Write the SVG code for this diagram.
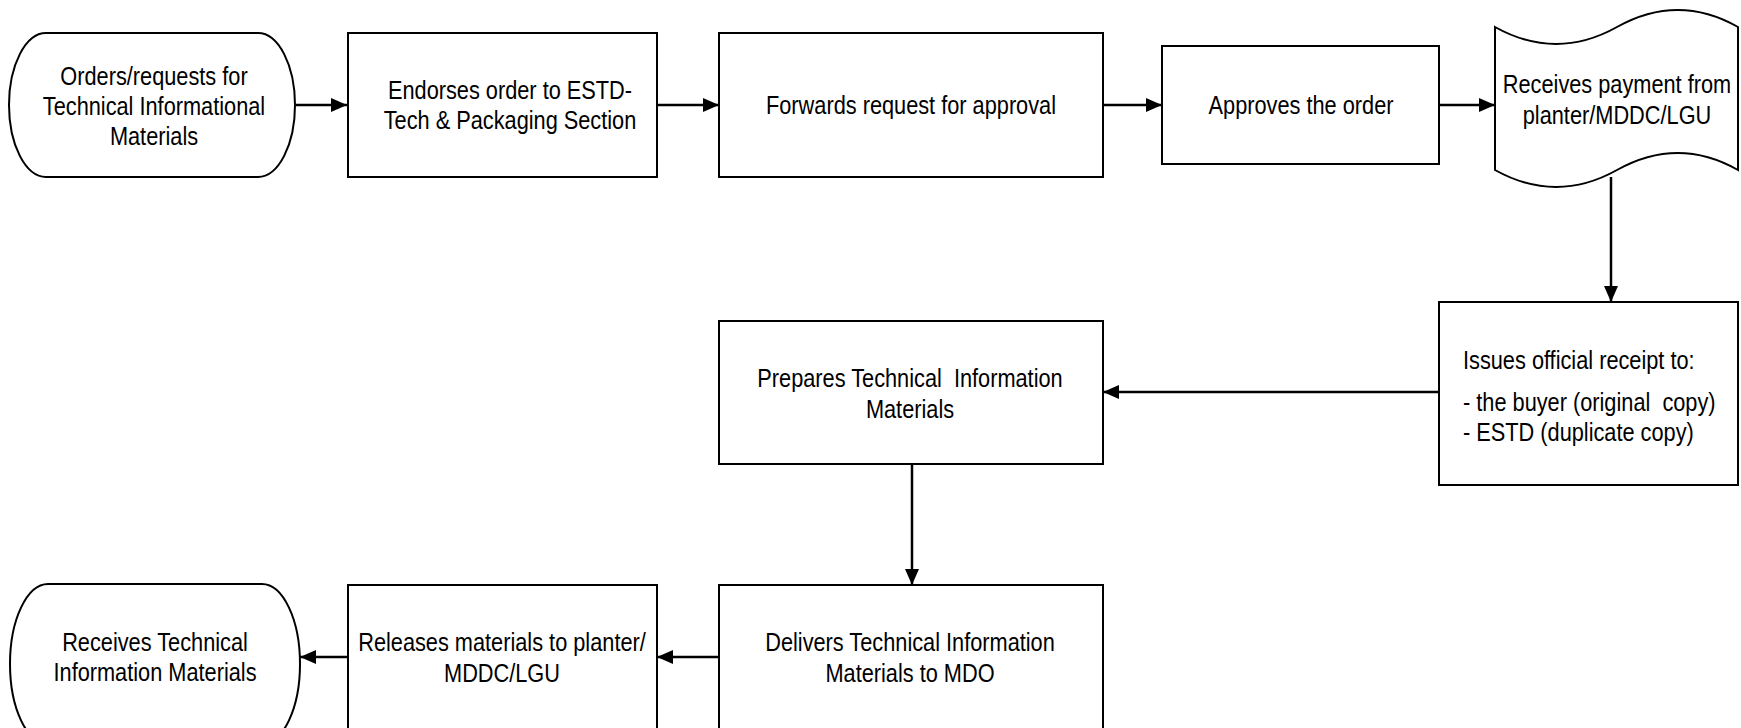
<svg xmlns="http://www.w3.org/2000/svg" width="1741" height="728" viewBox="0 0 1741 728">
<style>
.box{fill:#fff;stroke:#000;stroke-width:2}
.t{font-family:"Liberation Sans",Arial,sans-serif;font-size:25px;fill:#000;text-anchor:middle;dominant-baseline:central;white-space:pre}
.l{text-anchor:start}
.c{fill:none;stroke:#000;stroke-width:2.5}
</style>
<defs>
<marker id="ah" markerUnits="userSpaceOnUse" markerWidth="17" markerHeight="15" refX="16" refY="7" orient="auto">
<path d="M0,0 L16,7 L0,14 Z" fill="#000"/>
</marker>
</defs>
<rect width="1741" height="728" fill="#fff"/>
<g id="connectors">
<path class="c" d="M296,105 L347,105" marker-end="url(#ah)"/>
<path class="c" d="M657,105 L719,105" marker-end="url(#ah)"/>
<path class="c" d="M1103,105 L1162,105" marker-end="url(#ah)"/>
<path class="c" d="M1439,105 L1495,105" marker-end="url(#ah)"/>
<path class="c" d="M1611,177 L1611,302" marker-end="url(#ah)"/>
<path class="c" d="M1439,392 L1103,392" marker-end="url(#ah)"/>
<path class="c" d="M912,464 L912,585" marker-end="url(#ah)"/>
<path class="c" d="M719,657 L657,657" marker-end="url(#ah)"/>
<path class="c" d="M347,657 L300,657" marker-end="url(#ah)"/>
</g>
<g id="n1">
<rect class="box" x="9" y="33" width="286" height="144" rx="37" ry="72"/>
<text class="t" transform="translate(154,76) scale(0.87,1)">Orders/requests for</text>
<text class="t" transform="translate(154,106) scale(0.87,1)">Technical Informational</text>
<text class="t" transform="translate(154,136) scale(0.87,1)">Materials</text>
</g>
<g id="n2">
<rect class="box" x="348" y="33" width="309" height="144"/>
<text class="t" transform="translate(510,90) scale(0.87,1)">Endorses order to ESTD-</text>
<text class="t" transform="translate(510,120) scale(0.87,1)">Tech &amp; Packaging Section</text>
</g>
<g id="n3">
<rect class="box" x="719" y="33" width="384" height="144"/>
<text class="t" transform="translate(911,105) scale(0.87,1)">Forwards request for approval</text>
</g>
<g id="n4">
<rect class="box" x="1162" y="46" width="277" height="118"/>
<text class="t" transform="translate(1301,105) scale(0.87,1)">Approves the order</text>
</g>
<g id="n5">
<path class="box" d="M1495,27 Q1556,61 1617,27 T1738,27 L1738,170 Q1678,136 1617,170 T1495,170 Z"/>
<text class="t" transform="translate(1617,84) scale(0.87,1)">Receives payment from</text>
<text class="t" transform="translate(1617,115) scale(0.87,1)">planter/MDDC/LGU</text>
</g>
<g id="n6">
<rect class="box" x="1439" y="302" width="299" height="183"/>
<text class="t l" transform="translate(1463,360) scale(0.87,1)">Issues official receipt to:</text>
<text class="t l" transform="translate(1463,402) scale(0.87,1)" xml:space="preserve">- the buyer (original  copy)</text>
<text class="t l" transform="translate(1463,432) scale(0.87,1)">- ESTD (duplicate copy)</text>
</g>
<g id="n7">
<rect class="box" x="719" y="321" width="384" height="143"/>
<text class="t" transform="translate(910,378) scale(0.87,1)" xml:space="preserve">Prepares Technical  Information</text>
<text class="t" transform="translate(910,409) scale(0.87,1)">Materials</text>
</g>
<g id="n8">
<rect class="box" x="719" y="585" width="384" height="160"/>
<text class="t" transform="translate(910,642) scale(0.87,1)">Delivers Technical Information</text>
<text class="t" transform="translate(910,673) scale(0.87,1)">Materials to MDO</text>
</g>
<g id="n9">
<rect class="box" x="348" y="585" width="309" height="160"/>
<text class="t" transform="translate(502,642) scale(0.87,1)">Releases materials to planter/</text>
<text class="t" transform="translate(502,673) scale(0.87,1)">MDDC/LGU</text>
</g>
<g id="n10">
<rect class="box" x="10" y="584" width="290" height="160" rx="38" ry="80"/>
<text class="t" transform="translate(155,642) scale(0.87,1)">Receives Technical</text>
<text class="t" transform="translate(155,672) scale(0.87,1)">Information Materials</text>
</g>
</svg>
